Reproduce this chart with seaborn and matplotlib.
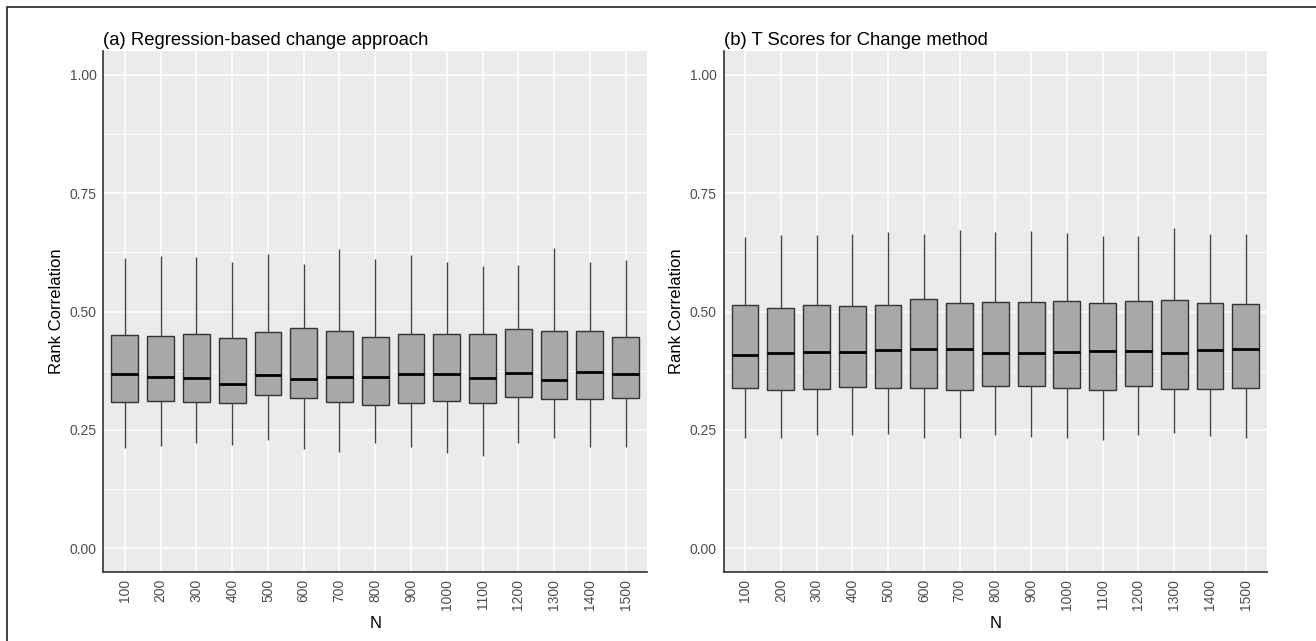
import numpy as np
import pandas as pd
import matplotlib
matplotlib.use("Agg")
import matplotlib.pyplot as plt
import seaborn as sns
from matplotlib.patches import Rectangle
from matplotlib.ticker import FixedLocator, FormatStrFormatter

# sample sizes (x categories)
n_labels = ["100", "200", "300", "400", "500", "600", "700", "800",
            "900", "1000", "1100", "1200", "1300", "1400", "1500"]

# (a) Regression-based change approach: five-number summaries
a_low = [0.211, 0.216, 0.222, 0.218, 0.228, 0.209, 0.204, 0.223,
         0.213, 0.201, 0.195, 0.222, 0.233, 0.215, 0.215]
a_q1 = [0.310, 0.311, 0.309, 0.306, 0.323, 0.318, 0.310, 0.302,
        0.307, 0.311, 0.306, 0.320, 0.315, 0.316, 0.318]
a_med = [0.368, 0.362, 0.360, 0.348, 0.365, 0.358, 0.362, 0.361,
         0.368, 0.368, 0.359, 0.370, 0.356, 0.372, 0.368]
a_q3 = [0.450, 0.448, 0.452, 0.445, 0.457, 0.466, 0.459, 0.446,
        0.452, 0.452, 0.452, 0.464, 0.459, 0.459, 0.447]
a_high = [0.614, 0.617, 0.615, 0.605, 0.622, 0.600, 0.632, 0.610,
          0.619, 0.605, 0.596, 0.599, 0.635, 0.605, 0.609]

# (b) T Scores for Change method
b_low = [0.233, 0.232, 0.240, 0.240, 0.241, 0.233, 0.233, 0.240,
         0.235, 0.232, 0.228, 0.240, 0.244, 0.237, 0.234]
b_q1 = [0.339, 0.334, 0.337, 0.340, 0.339, 0.339, 0.335, 0.342,
        0.342, 0.338, 0.334, 0.342, 0.337, 0.337, 0.339]
b_med = [0.409, 0.412, 0.414, 0.414, 0.419, 0.421, 0.420, 0.413,
         0.412, 0.414, 0.416, 0.416, 0.413, 0.419, 0.420]
b_q3 = [0.513, 0.507, 0.513, 0.511, 0.513, 0.526, 0.517, 0.520,
        0.520, 0.522, 0.518, 0.522, 0.524, 0.519, 0.516]
b_high = [0.658, 0.662, 0.662, 0.663, 0.668, 0.664, 0.672, 0.667,
          0.670, 0.665, 0.659, 0.660, 0.676, 0.664, 0.663]


def summary_frame(low, q1, med, q3, high):
    rows = []
    for i, n in enumerate(n_labels):
        for v in (low[i], q1[i], med[i], q3[i], high[i]):
            rows.append({"N": n, "Rank Correlation": v})
    return pd.DataFrame(rows)


df_a = summary_frame(a_low, a_q1, a_med, a_q3, a_high)
df_b = summary_frame(b_low, b_q1, b_med, b_q3, b_high)

sns.set_style("darkgrid")
plt.rcParams["font.family"] = ["Liberation Sans", "DejaVu Sans"]

fig = plt.figure(figsize=(13.16, 6.41), dpi=100)
ax_a = fig.add_axes([0.0786, 0.1076, 0.4131, 0.8128])
ax_b = fig.add_axes([0.5498, 0.1076, 0.4131, 0.8128])


def draw_panel(ax, df, title):
    ax.set_facecolor("#EBEBEB")
    sns.boxplot(data=df, x="N", y="Rank Correlation", order=n_labels, ax=ax,
                color="#A8A8A8", linecolor="#333333", linewidth=1.0,
                width=0.75, whis=(0, 100), showcaps=False, saturation=1,
                medianprops={"color": "black", "linewidth": 2.0},
                whiskerprops={"color": "#444444", "linewidth": 1.0})
    ax.set_ylim(-0.05, 1.05)
    ax.set_xlim(-0.6, len(n_labels) - 0.4)
    ax.yaxis.set_major_locator(FixedLocator([0, 0.25, 0.5, 0.75, 1.0]))
    ax.yaxis.set_minor_locator(FixedLocator([0.125, 0.375, 0.625, 0.875]))
    ax.yaxis.set_major_formatter(FormatStrFormatter("%.2f"))
    ax.grid(which="major", color="white", linewidth=1.1)
    ax.grid(which="minor", axis="y", color="white", linewidth=0.55)
    ax.set_axisbelow(True)
    for side in ("top", "right"):
        ax.spines[side].set_visible(False)
    for side in ("left", "bottom"):
        ax.spines[side].set_visible(True)
        ax.spines[side].set_color("#333333")
        ax.spines[side].set_linewidth(1.2)
    ax.tick_params(axis="both", which="major", length=3, width=0.8,
                   color="#333333", labelcolor="#4D4D4D", labelsize=10,
                   pad=2)
    ax.tick_params(axis="y", which="minor", length=0)
    ax.tick_params(axis="x", labelrotation=90)
    ax.set_xlabel("N", fontsize=12, color="black", labelpad=4)
    ax.set_ylabel("Rank Correlation", fontsize=12, color="black", labelpad=4)
    ax.set_title(title, loc="left", fontsize=13.3, color="black", pad=4)


draw_panel(ax_a, df_a, "(a) Regression-based change approach")
draw_panel(ax_b, df_b, "(b) T Scores for Change method")

fig.patches.append(Rectangle((7 / 1316, -0.1), 1.2, 1.1 - 7 / 641,
                             transform=fig.transFigure, fill=False,
                             edgecolor="#222222", linewidth=1.2))

fig.savefig("out.png", dpi=100)
